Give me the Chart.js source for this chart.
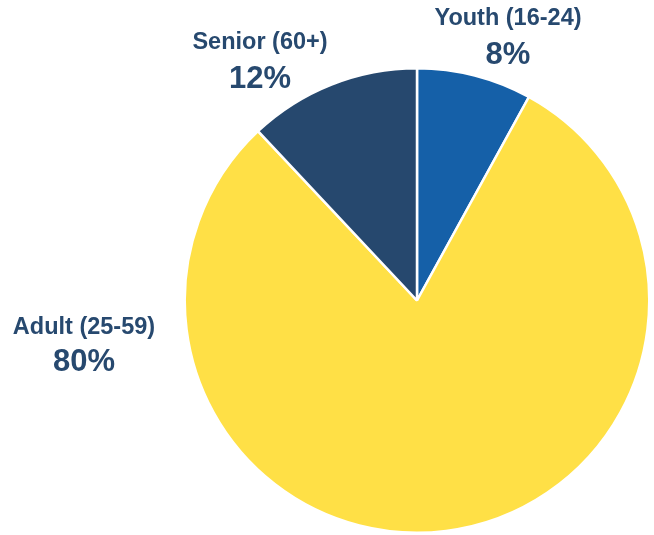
<!DOCTYPE html>
<html>
<head>
<meta charset="utf-8">
<script src="https://cdn.jsdelivr.net/npm/chart.js@4/dist/chart.umd.min.js"></script>
<style>
html,body{margin:0;padding:0;background:#fff;}
#wrap{position:relative;width:654px;height:535px;}
</style>
</head>
<body>
<div id="wrap"><canvas id="c" width="654" height="535"></canvas></div>
<script>
const categories = ["Youth (16-24)", "Adult (25-59)", "Senior (60+)"];
const values = [8, 80, 12];
const percentLabels = ["8%", "80%", "12%"];
const colors = ["#1560A8", "#FFE046", "#26486E"];
// label anchor offsets from pie centre (in units of the pie radius)
const R0 = 231.5;
const labelOffsets = [
  {dx: 91 / R0, dy1: -275.5 / R0, dy2: -237 / R0},
  {dx: -333 / R0, dy1: 33.8 / R0, dy2: 70.2 / R0},
  {dx: -157 / R0, dy1: -251.2 / R0, dy2: -212.2 / R0}
];

const labelPlugin = {
  id: 'sliceLabels',
  afterDraw(chart) {
    const ctx = chart.ctx;
    const meta = chart.getDatasetMeta(0);
    ctx.save();
    ctx.fillStyle = '#27496F';
    ctx.textAlign = 'center';
    ctx.textBaseline = 'alphabetic';
    meta.data.forEach((arc, i) => {
      const r = R0;
      const o = labelOffsets[i];
      const x = arc.x + o.dx * r;
      ctx.font = 'bold 23.5px "Liberation Sans", Arial, sans-serif';
      ctx.fillText(categories[i], x, arc.y + o.dy1 * r);
      ctx.font = 'bold 31px "Liberation Sans", Arial, sans-serif';
      ctx.fillText(percentLabels[i], x, arc.y + o.dy2 * r);
    });
    ctx.restore();
  }
};

new Chart(document.getElementById('c'), {
  type: 'pie',
  data: {
    labels: categories,
    datasets: [{
      data: values,
      backgroundColor: colors,
      borderColor: '#ffffff',
      borderWidth: 2.5
    }]
  },
  options: {
    responsive: false,
    animation: false,
    rotation: 0,
    layout: {padding: {left: 183, right: 3, top: 67, bottom: 1}},
    plugins: {legend: {display: false}, tooltip: {enabled: false}}
  },
  plugins: [labelPlugin]
});
</script>
</body>
</html>
